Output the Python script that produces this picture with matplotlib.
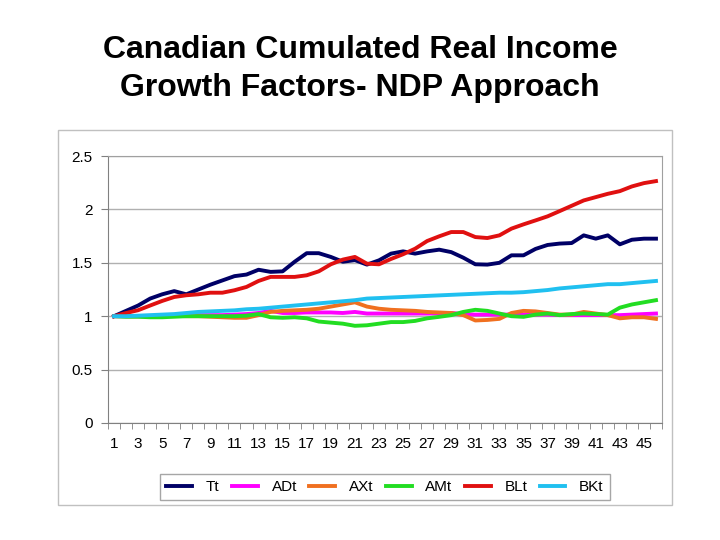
import matplotlib
matplotlib.use("Agg")
import matplotlib.pyplot as plt
from matplotlib.patches import Rectangle

plt.rcParams['font.family'] = ['Liberation Sans', 'DejaVu Sans']

periods = list(range(1, 47))

tt = [1.0, 1.05, 1.10, 1.165, 1.205, 1.235, 1.205, 1.25, 1.295, 1.335,
      1.375, 1.39, 1.435, 1.415, 1.42, 1.51, 1.59, 1.59, 1.555, 1.51,
      1.525, 1.483, 1.523, 1.586, 1.607, 1.586, 1.607, 1.623, 1.60, 1.548,
      1.486, 1.483, 1.50, 1.57, 1.57, 1.63, 1.667, 1.68, 1.685, 1.757,
      1.726, 1.757, 1.673, 1.716, 1.726, 1.726]
adt = [1.0, 1.0, 1.0, 1.0, 1.0, 1.005, 1.005, 1.01, 1.01, 1.01,
       1.015, 1.02, 1.03, 1.05, 1.03, 1.03, 1.035, 1.035, 1.035, 1.03,
       1.04, 1.025, 1.025, 1.025, 1.025, 1.025, 1.025, 1.025, 1.03, 1.02,
       1.015, 1.015, 1.015, 1.015, 1.015, 1.015, 1.015, 1.01, 1.01, 1.01,
       1.01, 1.01, 1.01, 1.015, 1.02, 1.025]
axt = [1.0, 1.0, 1.0, 1.0, 1.0, 1.005, 1.0, 1.0, 0.995, 0.99,
       0.985, 0.985, 1.01, 1.04, 1.05, 1.055, 1.06, 1.07, 1.09, 1.11,
       1.13, 1.09, 1.07, 1.06, 1.055, 1.05, 1.04, 1.035, 1.03, 1.01,
       0.96, 0.965, 0.975, 1.03, 1.05, 1.045, 1.03, 1.015, 1.015, 1.04,
       1.025, 1.01, 0.98, 0.99, 0.99, 0.975]
amt = [1.0, 0.995, 0.995, 0.99, 0.99, 0.995, 1.0, 1.0, 1.0, 1.0,
       1.0, 1.005, 1.02, 0.99, 0.985, 0.99, 0.98, 0.95, 0.94, 0.93,
       0.91, 0.915, 0.93, 0.945, 0.945, 0.956, 0.98, 0.994, 1.01, 1.04,
       1.06, 1.05, 1.025, 1.0, 0.994, 1.015, 1.025, 1.01, 1.02, 1.025,
       1.02, 1.015, 1.08, 1.11, 1.13, 1.15]
blt = [1.0, 1.03, 1.056, 1.10, 1.143, 1.18, 1.196, 1.205, 1.22, 1.22,
       1.243, 1.274, 1.33, 1.368, 1.368, 1.368, 1.383, 1.42, 1.486, 1.53,
       1.555, 1.492, 1.486, 1.536, 1.58, 1.632, 1.704, 1.748, 1.788, 1.788,
       1.741, 1.732, 1.757, 1.82, 1.86, 1.897, 1.935, 1.984, 2.034, 2.084,
       2.115, 2.146, 2.171, 2.215, 2.246, 2.265]
bkt = [1.0, 1.0, 1.005, 1.01, 1.015, 1.02, 1.03, 1.04, 1.045, 1.05,
       1.055, 1.065, 1.07, 1.08, 1.09, 1.10, 1.11, 1.12, 1.13, 1.14,
       1.15, 1.165, 1.17, 1.175, 1.18, 1.185, 1.19, 1.195, 1.20, 1.205,
       1.21, 1.215, 1.22, 1.22, 1.225, 1.235, 1.245, 1.26, 1.27, 1.28,
       1.29, 1.30, 1.30, 1.31, 1.32, 1.33]

names = ['Tt', 'ADt', 'AXt', 'AMt', 'BLt', 'BKt']
series = [tt, adt, axt, amt, blt, bkt]
colors = ['#000066', '#ff00ff', '#f07020', '#22dd22', '#e01010', '#20c0f0']

fig = plt.figure(figsize=(7.2, 5.4), dpi=100)

# outer chart border
fig.patches.append(Rectangle((58 / 720, 1 - 505 / 540), 614 / 720, 375 / 540,
                             transform=fig.transFigure, fill=False,
                             edgecolor='#c0c0c0', linewidth=1))

ax = fig.add_axes([108 / 720, 1 - 423 / 540, 554 / 720, 267 / 540])

for name, vals, c in zip(names, series, colors):
    ax.plot(periods, vals, color=c, linewidth=2.8, label=name)

ax.set_xlim(0.5, 46.5)
ax.set_ylim(0, 2.5)
ax.set_yticks([0, 0.5, 1, 1.5, 2, 2.5])
ax.set_yticklabels(['0', '0.5', '1', '1.5', '2', '2.5'])
ax.set_xticks(range(1, 46, 2))
ax.set_xticks([i + 0.5 for i in range(0, 47)], minor=True)
ax.grid(axis='y', color='#b0b0b0', linewidth=1)
ax.set_axisbelow(True)

for s in ['top', 'right']:
    ax.spines[s].set_color('#a0a0a0')
for s in ['left', 'bottom']:
    ax.spines[s].set_color('#808080')
ax.tick_params(axis='y', length=5, color='#808080', labelsize=11, pad=6)
ax.tick_params(axis='x', which='major', length=0, labelsize=11, pad=10)
ax.tick_params(axis='x', which='minor', length=4, color='#808080')

leg = ax.legend(loc='center', bbox_to_anchor=(385 / 720, 1 - 487 / 540),
                bbox_transform=fig.transFigure, ncol=6, fontsize=11,
                frameon=True, fancybox=False, handlelength=1.7,
                handletextpad=0.9, columnspacing=0.8, borderpad=0.4)
leg.get_frame().set_edgecolor('#909090')
leg.get_frame().set_linewidth(1)

fig.text(0.5, 1 - 58 / 540, 'Canadian Cumulated Real Income', ha='center',
         va='baseline', fontsize=23, fontweight='bold')
fig.text(0.5, 1 - 96 / 540, 'Growth Factors- NDP Approach', ha='center',
         va='baseline', fontsize=23, fontweight='bold')

fig.savefig('out.png', dpi=100)
